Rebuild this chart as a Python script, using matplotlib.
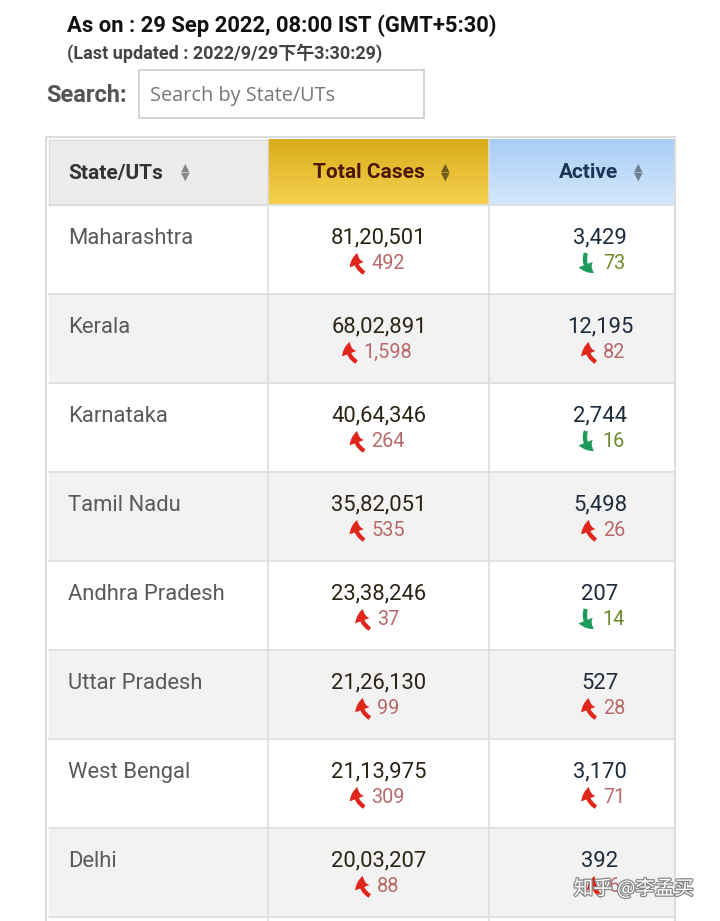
import numpy as np
import matplotlib.pyplot as plt
import matplotlib.patheffects as pe
from matplotlib.colors import LinearSegmentedColormap
from matplotlib.patches import Rectangle

states = ["Maharashtra", "Kerala", "Karnataka", "Tamil Nadu",
          "Andhra Pradesh", "Uttar Pradesh", "West Bengal", "Delhi"]
total_cases = [8120501, 6802891, 4064346, 3582051, 2338246, 2126130, 2113975, 2003207]
total_delta = [492, 1598, 264, 535, 37, 99, 309, 88]
active_cases = [3429, 12195, 2744, 5498, 207, 527, 3170, 392]
active_delta = [-73, 82, -16, 26, -14, 28, 71, 6]
headers = ["State/UTs", "Total Cases", "Active"]


def indian(n):
    s = str(abs(n))
    if len(s) <= 3:
        return s
    head, tail = s[:-3], s[-3:]
    parts = []
    while len(head) > 2:
        parts.insert(0, head[-2:])
        head = head[:-2]
    if head:
        parts.insert(0, head)
    return ",".join(parts) + "," + tail


FONT = ["Roboto", "Noto Sans CJK SC", "DejaVu Sans"]
plt.rcParams["font.family"] = FONT

fig = plt.figure(figsize=(7.2, 9.21), dpi=100)
ax = fig.add_axes([0, 0, 1, 1])

# top texts
ax.text(67, 26, "As on : 29 Sep 2022, 08:00 IST (GMT+5:30)", fontsize=15.8,
        fontweight="bold", color="#111111", va="center")
ax.text(67, 53, "(Last updated : 2022/9/29下午3:30:29)", fontsize=13,
        fontweight="bold", color="#444444", va="center")
ax.text(46, 95, "Search:", fontsize=17, fontweight="bold", color="#555555", va="center")
ax.add_patch(Rectangle((139, 70), 285, 48, fill=False, ec="#cccccc", lw=1.2))
ax.text(150, 96, "Search by State/UTs", fontsize=14.3, color="#777777", va="center",
        family=["Open Sans", "DejaVu Sans"])

# table geometry
col_x = [49, 268, 489, 675]
head_top, head_bot = 140, 205
row_h = 89
line_c = "#dddddd"

# outer frame
ax.add_patch(Rectangle((46, 137), 629, 790, fill=False, ec=line_c, lw=1.5, zorder=3))

# header cells
ax.add_patch(Rectangle((col_x[0], head_top), col_x[1] - col_x[0], head_bot - head_top,
                       fc="#ececec", ec=line_c, lw=1))
grad = np.linspace(0, 1, 64).reshape(-1, 1)
ax.imshow(grad, cmap=LinearSegmentedColormap.from_list("g", ["#d9ad1c", "#f6d14f"]),
          extent=(col_x[1], col_x[2], head_bot, head_top), aspect="auto", zorder=1)
ax.imshow(grad, cmap=LinearSegmentedColormap.from_list("b", ["#a9cdf6", "#d3e8fb"]),
          extent=(col_x[2], col_x[3], head_bot, head_top), aspect="auto", zorder=1)
ax.set_xlim(0, 720)
ax.set_ylim(921, 0)
ax.axis("off")
for x in col_x[1:3]:
    ax.plot([x, x], [head_top, 921], color=line_c, lw=1.2, zorder=3)

head_cfg = [(68, "#333333", 185, "#888888"),
            (313, "#4a1808", 445, "#6e5a1e"),
            (559, "#1b3556", 638, "#6f7f90")]
for (x, c, ix, ic), h in zip(head_cfg, headers):
    ax.text(x, 173, h, fontsize=15, fontweight="bold", color=c, va="center",
            zorder=4)
    ax.text(ix, 168, "▲", fontsize=8, color=ic, ha="center", va="center", zorder=4,
            family="DejaVu Sans")
    ax.text(ix, 177, "▼", fontsize=8, color=ic, ha="center", va="center", zorder=4,
            family="DejaVu Sans")

fig.canvas.draw()
rend = fig.canvas.get_renderer()
inv = ax.transData.inverted()


def text_w(s, size):
    t = ax.text(0, 0, s, fontsize=size)
    bb = t.get_window_extent(rend)
    t.remove()
    p = inv.transform([[bb.x0, bb.y0], [bb.x1, bb.y1]])
    return p[1, 0] - p[0, 0]


def delta(cx, y, d):
    s = indian(d)
    w = text_w(s, 14.3)
    aw = 12
    x0 = cx - (aw + 6 + w) / 2
    style = "simple,head_length=0.6,head_width=0.8,tail_width=0.22"
    if d >= 0:
        ax.annotate("", xy=(x0 + 4, y - 10), xytext=(x0 + 11, y + 10),
                    arrowprops=dict(arrowstyle=style, color="#e0251b", lw=0,
                                    mutation_scale=14, shrinkA=0, shrinkB=0,
                                    connectionstyle="arc3,rad=-0.4"), zorder=5)
        tc = "#b86a6a"
    else:
        ax.annotate("", xy=(x0 + 9, y + 10), xytext=(x0 + 1, y - 10),
                    arrowprops=dict(arrowstyle=style, color="#1e9a5a", lw=0,
                                    mutation_scale=14, shrinkA=0, shrinkB=0,
                                    connectionstyle="arc3,rad=0.4"), zorder=5)
        tc = "#6d8a2a"
    ax.text(x0 + aw + 6, y, s, fontsize=14.3, color=tc, va="center", ha="left", zorder=5)


for i, st in enumerate(states):
    top = head_bot + i * row_h
    bg = "#ffffff" if i % 2 == 0 else "#f2f2f2"
    ax.add_patch(Rectangle((col_x[0], top), col_x[3] - col_x[0], row_h, fc=bg,
                           ec="none", zorder=0))
    ax.plot([col_x[0], col_x[3]], [top, top], color=line_c, lw=1.2, zorder=3)
    ax.text(68, top + 33, st, fontsize=15.8, color="#5a5a5a", va="center", zorder=4)
    ax.text(379, top + 33, indian(total_cases[i]), fontsize=15.8, color="#2b2415",
            ha="center", va="center", zorder=4)
    ax.text(600, top + 33, indian(active_cases[i]), fontsize=15.8, color="#1d2b3c",
            ha="center", va="center", zorder=4)
    delta(379, top + 58, total_delta[i])
    delta(605, top + 58, active_delta[i])

ax.plot([col_x[0], col_x[3]], [head_bot + 8 * row_h, head_bot + 8 * row_h],
        color=line_c, lw=1.2, zorder=3)

ax.text(634, 889, "知乎 @李孟买", fontsize=14, color="white", ha="center", va="center",
        family=["Noto Sans CJK SC", "DejaVu Sans"], zorder=6,
        path_effects=[pe.withStroke(linewidth=1.8, foreground="#888888")])

fig.savefig("out.png", dpi=100)
